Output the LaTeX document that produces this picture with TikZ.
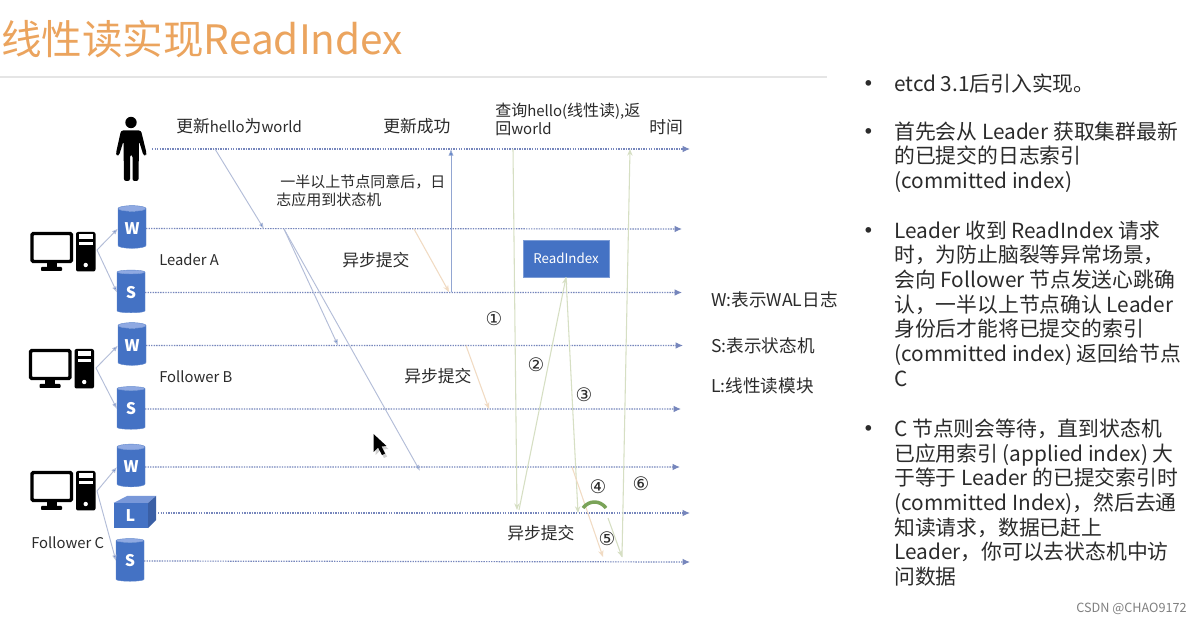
\documentclass[tikz,border=0pt]{standalone}
\usepackage{fontspec}
\setmainfont{Noto Sans CJK SC}
\usetikzlibrary{shapes.geometric,arrows.meta}
\newfontfamily\numfont{DejaVu Sans}
\newcommand\ltn[1]{{\fontsize{11.2}{13}\selectfont #1}}
\definecolor{lifeblue}{HTML}{7686BC}
\definecolor{msgblue}{HTML}{B3BDD8}
\definecolor{msggreen}{HTML}{D6DFC3}
\definecolor{msgorange}{HTML}{F1DBC3}
\definecolor{boxblue}{HTML}{4472C4}
\definecolor{boxlight}{HTML}{8FA9E2}
\definecolor{boxdark}{HTML}{3A5FA5}
\definecolor{titleorange}{HTML}{EBA45E}
\definecolor{inktext}{HTML}{2B2B2B}
\definecolor{arcgreen}{HTML}{7AA358}
\tikzset{
  x=0.75pt,y=-0.75pt,
  life/.style={draw=lifeblue,line width=0.9pt,dash pattern=on 1.05pt off 0.85pt,-{Latex[length=5.5pt,width=5pt,fill=lifeblue]}},
  msg/.style={draw=msgblue,line width=0.7pt,-{Latex[length=4.5pt,width=3.5pt,fill=boxblue]}},
  msgB/.style={draw=msgblue!70!boxblue,line width=0.7pt,-{Latex[length=5pt,width=4pt,fill=boxblue]}},
  msgG/.style={draw=msggreen,line width=0.8pt,-{Stealth[length=5pt,width=4pt,fill=msggreen]}},
  msgO/.style={draw=msgorange,line width=0.8pt,-{Stealth[length=5pt,width=4pt,fill=orange!60]}},
  link/.style={draw=msgblue,line width=0.7pt,-{Latex[length=4.5pt,width=3.5pt,fill=boxblue]}},
  store/.style={cylinder,shape border rotate=90,aspect=0.38,minimum width=21pt,minimum height=32pt,
    inner sep=0pt,outer sep=0pt,draw=boxblue!85!white,line width=0.3pt,cylinder uses custom fill,cylinder body fill=boxblue,cylinder end fill=boxlight,
    text=white,font=\fontsize{12}{14}\selectfont\bfseries},
  lab/.style={anchor=west,inner sep=0pt,text=inktext,font=\fontsize{12.6}{13.5}\selectfont},
  labS/.style={anchor=west,inner sep=0pt,text=inktext,align=left,font=\fontsize{11.25}{13.5}\selectfont},
  lat/.style={anchor=west,inner sep=0pt,text=inktext,font=\fontsize{11.1}{13}\selectfont},
  key/.style={anchor=west,inner sep=0pt,text=inktext,font=\fontsize{13.2}{14}\selectfont},
  num/.style={inner sep=0pt,text=inktext,font=\fontsize{14}{14}\numfont},
  bull/.style={inner sep=0pt,text=inktext,font=\fontsize{20}{20}\selectfont},
  side/.style={anchor=north west,inner sep=0pt,text=inktext,align=left,font=\fontsize{15.6}{18.5}\selectfont},
  pc/.pic={
    \draw[black,line width=2.6pt,rounded corners=1pt] (1.5,1.5) rectangle (41,29.5);
    \fill[black] (16,30) rectangle (26,36);
    \fill[black,rounded corners=0.6pt] (10.5,35) rectangle (31.5,39);
    \fill[black,rounded corners=1.5pt] (45.5,0) rectangle (65,39.5);
    \fill[white] (48.5,2.5) rectangle (62,7);
    \fill[white] (48.5,10) rectangle (62,13.5);
    \fill[white] (55.2,33) circle[radius=2.2];
  }
}
\begin{document}
\begin{tikzpicture}
\useasboundingbox (0,0) rectangle (1200,623);
\fill[white] (0,0) rectangle (1200,623);

% title
\node[anchor=west,inner sep=0pt,text=titleorange,font=\fontsize{30.4}{32}\selectfont] (title) at (1,39) {线性读实现ReadIndex};
\coordinate (ruleL) at (0,77); \coordinate (ruleR) at (827,77);
\draw[black!10,line width=0.8pt] (ruleL) -- (ruleR);

% person
\fill[black] (131,122.5) circle[radius=5.7];
\fill[black,rounded corners=1.6pt] (121,130.5) -- (141,130.5) -- (146.5,153) -- (146,155.5) -- (143.5,155.5) -- (139,141) -- (138.5,181) -- (132.5,181) -- (132.5,155) -- (130,155) -- (130,181) -- (124,181) -- (123.5,141) -- (119,155.5) -- (116.5,155.5) -- (116,153) -- cycle;
\coordinate (pstart) at (152,149);

% computers
\pic at (30.5,232) {pc};
\pic at (29,349) {pc};
\pic at (30.5,471) {pc};
\coordinate (pca) at (97,250);
\coordinate (pcb) at (96,368);
\coordinate (pcc) at (97,491);

% stores
\node[store] (wa) at (132,228.5) {W};
\node[store] (sa) at (131,292.5) {S};
\node[store] (wb) at (132,345.5) {W};
\node[store] (sb) at (131,409) {S};
\node[store] (wc) at (131,467) {W};
\node[store] (sc) at (130,561) {S};

% L cube
\fill[boxblue] (113.5,503) rectangle (148,528);
\fill[boxlight!70!boxblue] (113.5,503) -- (127,496) -- (156,496) -- (148,503) -- cycle;
\fill[boxdark] (148,503) -- (156,496) -- (156,520) -- (148,528) -- cycle;
\node[inner sep=0pt,text=white,font=\fontsize{12}{14}\selectfont\bfseries] (lname) at (130.5,516) {L};
\coordinate (lstart) at (158,513);

% computer links
\draw[link] (pca) -- (wa.west);
\draw[link] (pca) -- (sa.west);
\draw[link] (pcb) -- (wb.west);
\draw[link] (pcb) -- (sb.west);
\draw[link] (pcc) -- (wc.west);
\draw[link] (pcc) -- (sc.west);

% timelines
\coordinate (e0) at (690,149);
\coordinate (e1) at (682,229);
\coordinate (e2) at (682,292.5);
\coordinate (e3) at (683,345.5);
\coordinate (e4) at (681,409);
\coordinate (e5) at (680,467);
\coordinate (e6) at (690,513);
\coordinate (e7) at (690,562);
\draw[life] (pstart) -- (e0);
\draw[life] (wa.east) -- (e1);
\draw[life] (sa.east) -- (e2);
\draw[life] (wb.east) -- (e3);
\draw[life] (sb.east) -- (e4);
\draw[life] (wc.east) -- (e5);
\draw[life] (lstart) -- (e6);
\draw[life] (sc.east) -- (e7);

% read index box
\node[draw=boxblue!70!white,fill=boxblue,text=white,minimum width=64.5pt,minimum height=27.8pt,inner sep=0pt,line width=0.4pt,font=\fontsize{10}{12}\selectfont] (ri) at (566,258.5) {ReadIndex};

% write path
\coordinate (m1a) at (215,149); \coordinate (m1b) at (264,229);
\coordinate (m2a) at (284,229); \coordinate (m2b) at (338,345.5);
\coordinate (m3b) at (420,471);
\coordinate (m4a) at (414,229); \coordinate (m4b) at (449,292);
\coordinate (m5a) at (451,292.5); \coordinate (m5b) at (451,149);
\coordinate (m6a) at (466,345.5); \coordinate (m6b) at (489,409);
\draw[msg] (m1a) -- (m1b);
\draw[msg] (m2a) -- (m2b);
\draw[msg] (m2a) -- (m3b);
\draw[msgO] (m4a) -- (m4b);
\draw[msgB] (m5a) -- (m5b);
\draw[msgO] (m6a) -- (m6b);

% read path
\coordinate (r1a) at (513,149); \coordinate (r1b) at (517,510);
\coordinate (r2a) at (519,510);
\coordinate (r3b) at (578,513);
\coordinate (r4a) at (572,467); \coordinate (r4b) at (603,557);
\coordinate (r5a) at (608,518); \coordinate (r5b) at (622,557);
\coordinate (r6a) at (622,557); \coordinate (r6b) at (630,149);
\draw[msgG] (r1a) -- (r1b);
\draw[msgG] (r2a) -- (ri.south);
\draw[msgG] (ri.south) -- (r3b);
\draw[msgO] (r4a) -- (r4b);
\draw[msgG] (r5a) -- (r5b);
\draw[msgG] (r6a) -- (r6b);

% wait arc
\coordinate (arcL) at (583,508); \coordinate (arcR) at (606,508);
\draw[arcgreen,line width=2.6pt] (arcL) .. controls (589,500) and (600,500) .. (arcR);

% cursor
\fill[black!30,opacity=0.6] (375.5,437) -- (375.5,455) -- (380,450.5) -- (384,458) -- (387,456.5) -- (383.5,449.5) -- (388.5,449) -- cycle;
\fill[black] (373.5,434) -- (373.5,452) -- (378,447.5) -- (382,455) -- (385,453.5) -- (381.5,446.5) -- (386.5,446) -- cycle;

% labels
\node[lab] (t1) at (176,126) {更新\ltn{hello}为\ltn{world}};
\node[lab] (t2) at (383,126) {更新成功};
\node[labS,font=\fontsize{12}{13.5}\selectfont] (t3) at (495,119.5) {查询\ltn{hello(}线性读\ltn{),}返\\回\ltn{world}};
\node[lab] (t4) at (649,127) {时间};
\node[labS] (t5) at (276,191) {\hspace{3pt}一半以上节点同意后，日\\志应用到状态机};
\node[lat] (t6) at (159,260) {Leader A};
\node[lab] (t7) at (342,260) {异步提交};
\node[lat] (t8) at (159,377) {Follower B};
\node[lab] (t9) at (404,376) {异步提交};
\node[lat] (t10) at (31,543) {Follower C};
\node[lab] (t11) at (507,533) {异步提交};
\node[key] (k1) at (711,300) {W:表示WAL日志};
\node[key] (k2) at (711,346) {S:表示状态机};
\node[key] (k3) at (711,386) {L:线性读模块};

\node[num] (n1) at (494,319) {①};
\node[num] (n2) at (536,365) {②};
\node[num] (n3) at (584,395) {③};
\node[num] (n4) at (598,487) {④};
\node[num] (n5) at (607,539) {⑤};
\node[num] (n6) at (641,484) {⑥};

% side text
\node[bull] (b1) at (869,87) {•};
\node[side] (s1) at (894,73.5) {etcd 3.1后引入实现。};
\node[bull] (b2) at (869,135) {•};
\node[side] (s2) at (894,121.5) {首先会从 Leader 获取集群最新\\的已提交的日志索引\\(committed index)};
\node[bull] (b3) at (869,234) {•};
\node[side] (s3) at (894,220.5) {Leader 收到 ReadIndex 请求\\时，为防止脑裂等异常场景，\\会向 Follower 节点发送心跳确\\认，一半以上节点确认 Leader\\身份后才能将已提交的索引\\(committed index) 返回给节点\\C};
\node[bull] (b4) at (869,432) {•};
\node[side] (s4) at (894,418.5) {C 节点则会等待，直到状态机\\已应用索引 (applied index) 大\\于等于 Leader 的已提交索引时\\(committed Index)，然后去通\\知读请求，数据已赶上\\Leader，你可以去状态机中访\\问数据};

% watermark
\node[anchor=east,inner sep=0pt,text=black!50,font=\fontsize{9.5}{11}\selectfont] (wm) at (1187,609) {CSDN @CHAO9172};
\end{tikzpicture}
\end{document}
